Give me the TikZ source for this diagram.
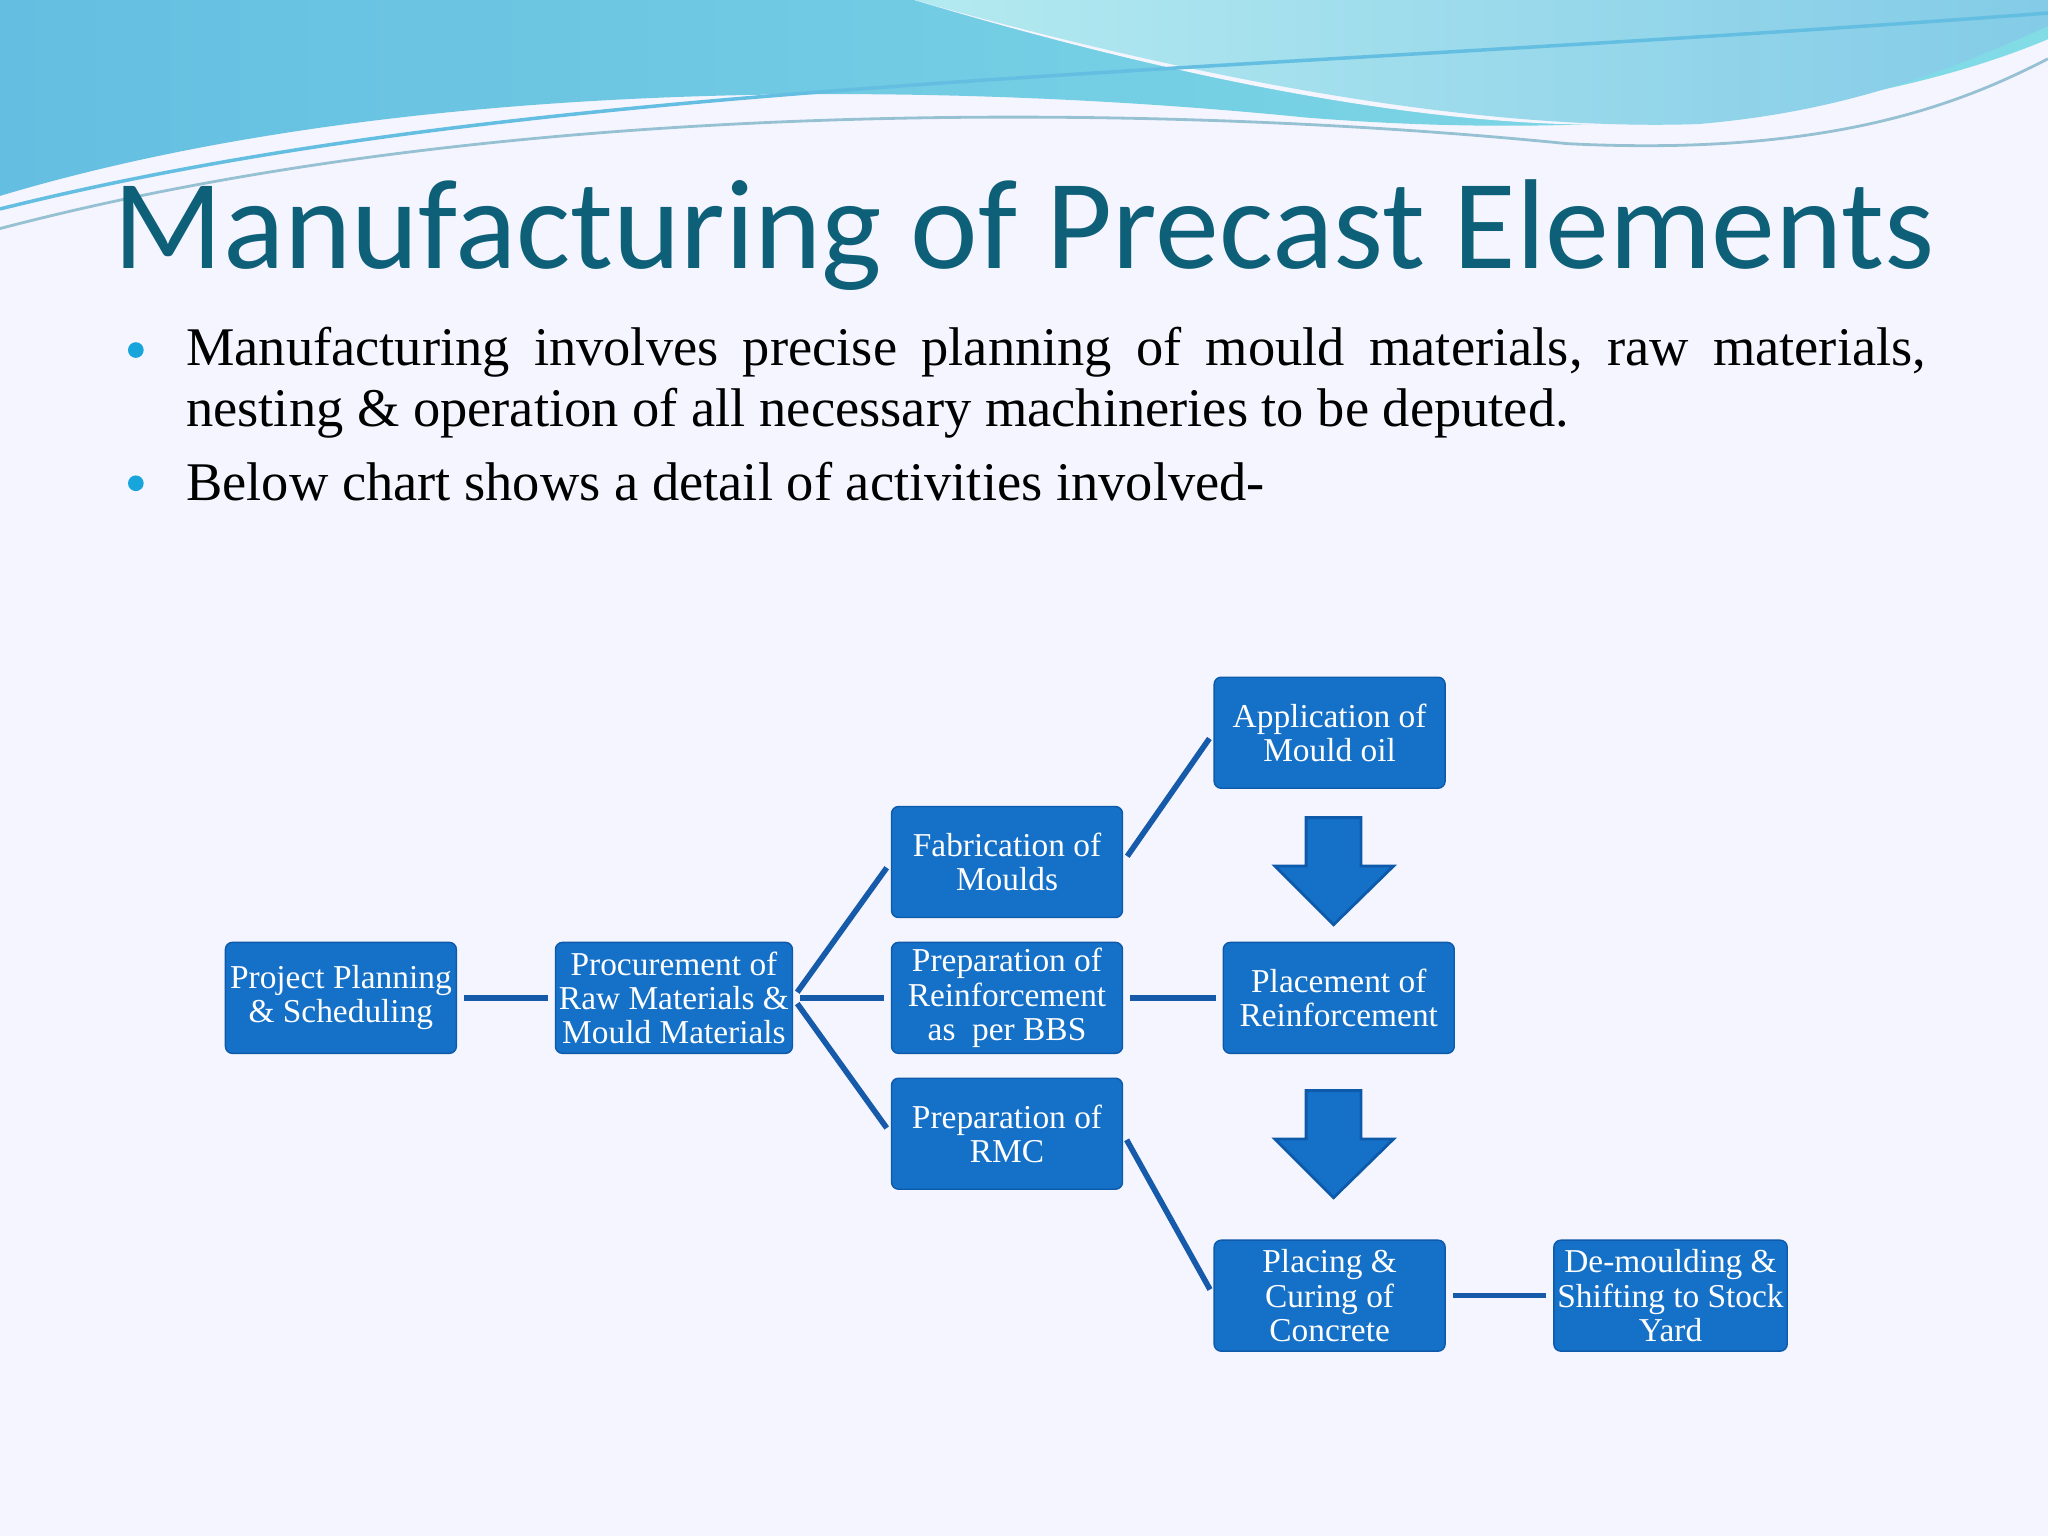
\documentclass[tikz,border=0pt]{standalone}
\usepackage{fontspec}
\setmainfont{Liberation Serif}
\newfontfamily\titlefont{Carlito}
\definecolor{boxblue}{RGB}{21,112,200}
\definecolor{boxedge}{RGB}{14,90,170}
\definecolor{linec}{RGB}{22,90,170}
\definecolor{titlec}{RGB}{14,96,120}
\definecolor{wave1}{RGB}{100,190,225}
\definecolor{wave2}{RGB}{130,220,230}
\begin{document}
\begin{tikzpicture}[x=0.013061cm,y=-0.013061cm,
  stepbox/.style={draw=boxedge,fill=boxblue,rounded corners=2pt,minimum width=2.31cm,minimum height=1.11cm,text=white,align=center,font=\fontsize{9.5}{9.7}\selectfont,inner sep=1pt},
  conn/.style={draw=linec,line width=1.6pt,shorten <=2pt,shorten >=2pt},
  blk/.style={draw=boxedge,fill=boxblue,line width=0.8pt,line join=miter}]
\useasboundingbox (0,0) rectangle (1568,1176);
\fill[white!96!blue] (0,0) rectangle (1568,1176);
% top waves
\shade[left color=wave1,right color=wave2] (0,0) -- (0,150) .. controls (300,60) and (700,60) .. (1000,90) .. controls (1250,110) and (1450,80) .. (1568,30) -- (1568,0) -- cycle;
\fill[white!96!blue] (700,0) .. controls (900,60) and (1100,100) .. (1250,95) .. controls (1400,90) and (1500,40) .. (1568,5) -- (1568,0) -- cycle;
\shade[left color=wave2!60,right color=wave1!80] (700,0) .. controls (950,70) and (1150,100) .. (1300,95) .. controls (1420,85) and (1500,50) .. (1568,20) -- (1568,0) -- cycle;
\draw[wave1!80!black!60,line width=0.8pt] (0,175) .. controls (400,70) and (900,80) .. (1200,110) .. controls (1400,120) and (1500,80) .. (1568,45);
\draw[wave1,line width=1pt] (0,160) .. controls (400,60) and (900,60) .. (1568,10);
% title and text
\node[anchor=center,text=titlec,font=\titlefont\fontsize{36.4}{36.4}\selectfont] (title) at (784,180) {Manufacturing of Precast Elements};
\fill[cyan!80!teal] (104,268) circle (6);
\fill[cyan!80!teal] (104,370) circle (6);
\node[anchor=north west,align=left,font=\fontsize{15.5}{17.4}\selectfont,inner sep=0pt] (b1) at (142,250) {\makebox[17.4cm][s]{Manufacturing \ involves \ precise \ planning \ of \ mould \ materials, \ raw \ materials,}\\nesting \& operation of all necessary machineries to be deputed.};
\node[anchor=north west,font=\fontsize{15.5}{17.4}\selectfont,inner sep=0pt] (b2) at (142,353) {Below chart shows a detail of activities involved-};
% boxes
\node[stepbox] (pp) at (261,764) {Project Planning\\\& Scheduling};
\node[stepbox] (pr) at (516,764) {Procurement of\\Raw Materials \&\\Mould Materials};
\node[stepbox] (fm) at (771,660) {Fabrication of\\Moulds};
\node[stepbox] (rb) at (771,764) {Preparation of\\Reinforcement\\as \ per BBS};
\node[stepbox] (rmc) at (771,868) {Preparation of\\RMC};
\node[stepbox] (mo) at (1018,561) {Application of\\Mould oil};
\node[stepbox] (pl) at (1025,764) {Placement of\\Reinforcement};
\node[stepbox] (pc) at (1018,992) {Placing \&\\Curing of\\Concrete};
\node[stepbox] (dm) at (1279,992) {De-moulding \&\\Shifting to Stock\\Yard};
% connectors
\draw[conn] (pp.east) -- (pr.west);
\draw[conn] (pr.east) -- (fm.west);
\draw[conn] (pr.east) -- (rb.west);
\draw[conn] (pr.east) -- (rmc.west);
\draw[conn] (fm.east) -- (mo.west);
\draw[conn] (rb.east) -- (pl.west);
\draw[conn] (rmc.east) -- (pc.west);
\draw[conn] (pc.east) -- (dm.west);
% block arrows
\draw[blk] (1000,626) -- (1042,626) -- (1042,663) -- (1067,663) -- (1021,708) -- (976,663) -- (1000,663) -- cycle;
\draw[blk] (1000,835) -- (1042,835) -- (1042,872) -- (1067,872) -- (1021,917) -- (976,872) -- (1000,872) -- cycle;
\end{tikzpicture}
\end{document}
